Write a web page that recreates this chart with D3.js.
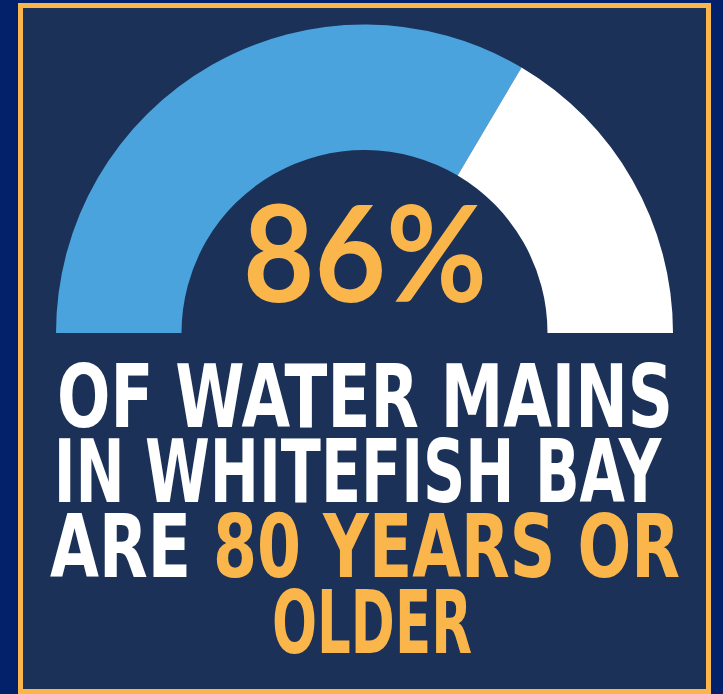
<!DOCTYPE html>
<html lang="en">
<head>
    <meta charset="UTF-8">
    <title>Water mains gauge</title>
    <script src="https://d3js.org/d3.v7.min.js"></script>
    <style>
        html, body {
            margin: 0;
            padding: 0;
            background: #03206a;
        }
        svg { display: block; }
        .line {
            font-family: "DejaVu Sans Condensed", "DejaVu Sans", sans-serif;
            font-weight: bold;
        }
        .big {
            font-family: Lato, "DejaVu Sans", sans-serif;
            font-weight: bold;
        }
    </style>
</head>
<body>
    <svg id="chart"></svg>

    <script>
        // gauge shares (blue part, remaining part)
        const gaugeNames = ["older", "rest"];
        const gaugeValues = [67, 33];
        const gaugeColors = ["#4ba3de", "#ffffff"];

        const headline = "86%";

        // text lines, each split into [text, highlighted?]
        const lines = [
            [["OF WATER MAINS", false]],
            [["IN WHITEFISH BAY", false]],
            [["ARE ", false], ["80 YEARS OR", true]],
            [["OLDER", true]]
        ];

        const width = 723;
        const height = 694;
        const gold = "#fbb64b";
        const panel = "#1b3158";

        const svg = d3.select("#chart")
                      .attr("width", width)
                      .attr("height", height);

        svg.append("rect")
           .attr("width", width)
           .attr("height", height)
           .attr("fill", "#03206a");

        // framed panel
        svg.append("rect")
           .attr("x", 20.5)
           .attr("y", 5.5)
           .attr("width", 688)
           .attr("height", 686)
           .attr("fill", panel)
           .attr("stroke", gold)
           .attr("stroke-width", 5);

        // gauge
        const cx = 364.5, cy = 333;
        const pie = d3.pie()
                      .sort(null)
                      .startAngle(-Math.PI / 2)
                      .endAngle(Math.PI / 2);
        const arc = d3.arc()
                      .innerRadius(183)
                      .outerRadius(308.5);

        svg.append("g")
           .attr("transform", `translate(${cx},${cy})`)
           .selectAll("path")
           .data(pie(gaugeValues))
           .enter()
           .append("path")
           .attr("d", arc)
           .attr("fill", (d, i) => gaugeColors[i])
           .attr("data-name", (d, i) => gaugeNames[i]);

        // fit a text element to a given horizontal span
        function fit(sel, x0, x1) {
            const w = sel.node().getBBox().width;
            const s = (x1 - x0) / w;
            const base = +sel.attr("data-base");
            sel.attr("transform", `translate(${(x0 + x1) / 2},${base}) scale(${s},1)`);
        }

        const big = svg.append("text")
           .attr("class", "big")
           .attr("text-anchor", "middle")
           .attr("font-size", 134)
           .attr("fill", gold)
           .attr("data-base", 302)
           .text(headline);
        fit(big, 243, 487);

        const spans = [[57, 673, 427], [53, 662, 502], [50, 680, 577], [272, 472, 653]];

        lines.forEach((parts, i) => {
            const t = svg.append("text")
               .attr("class", "line")
               .attr("text-anchor", "middle")
               .attr("font-size", 88)
               .attr("data-base", spans[i][2]);
            parts.forEach(p => {
                t.append("tspan")
                 .attr("fill", p[1] ? gold : "#ffffff")
                 .text(p[0]);
            });
            fit(t, spans[i][0], spans[i][1]);
        });
    </script>
</body>
</html>
